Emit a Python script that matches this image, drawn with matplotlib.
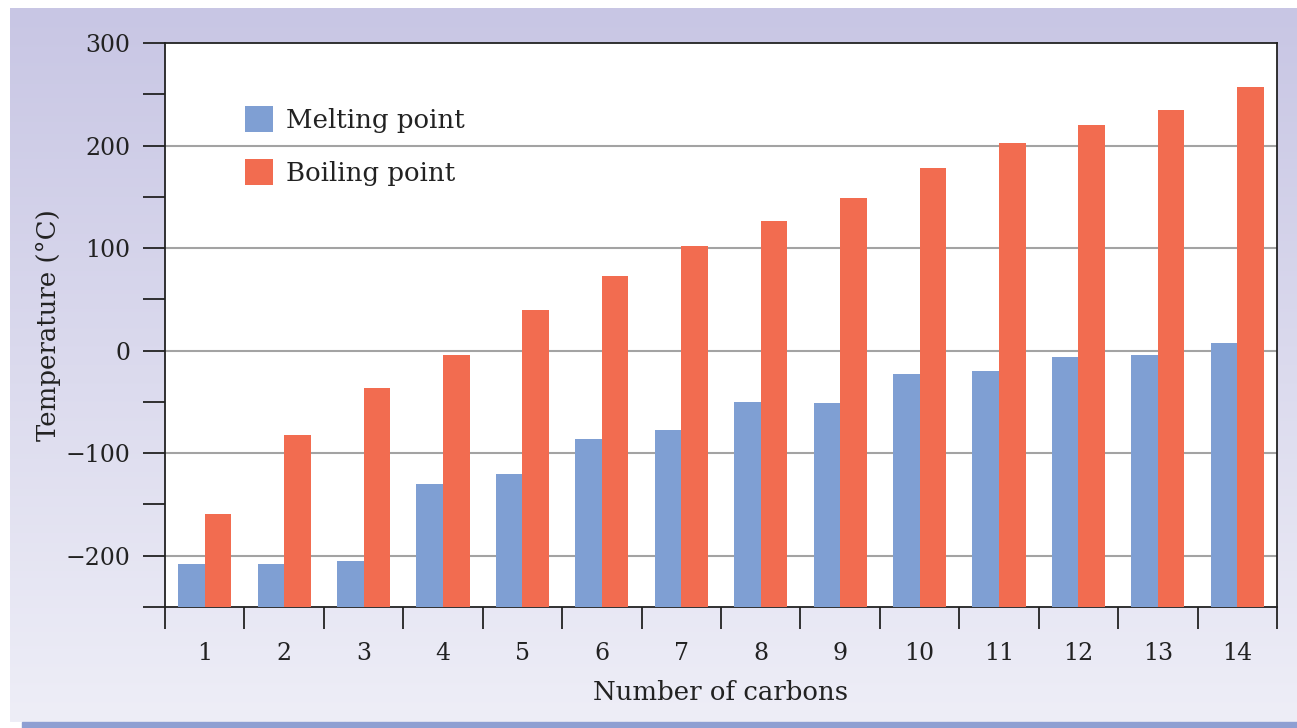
import numpy as np
import matplotlib
matplotlib.use("Agg")
import matplotlib.pyplot as plt
from matplotlib.patches import Rectangle
from matplotlib.ticker import FixedLocator

carbons = [1, 2, 3, 4, 5, 6, 7, 8, 9, 10, 11, 12, 13, 14]
melting = [-208, -208, -205, -130, -120, -86, -77, -50, -51, -23, -20, -6, -4, 7]
boiling = [-159, -82, -36, -4, 40, 73, 102, 126, 149, 178, 202, 220, 235, 257]
y_ticks = [-200, -100, 0, 100, 200, 300]
y_tick_labels = ["\u2212200", "\u2212100", "0", "100", "200", "300"]

blue = "#7f9fd3"
orange = "#f26c50"
font = ["DejaVu Serif"]
plt.rcParams["font.family"] = font
FS = 17
LFS = 18.7
TC = "#222222"

fig = plt.figure(figsize=(12.97, 7.28), dpi=100)

# background panel with vertical gradient
bg = fig.add_axes([0, 0, 1, 1], zorder=-10)
bg.axis("off")
top_c = np.array([200, 198, 228]) / 255
bot_c = np.array([238, 238, 247]) / 255
t = np.linspace(0, 1, 256)[:, None]
grad = (top_c[None, :] * (1 - t) + bot_c[None, :] * t)[:, None, :]
grad = np.repeat(grad, 2, axis=1)
bg.imshow(grad, extent=[10, 1297, 722, 8], aspect="auto", interpolation="bilinear")
bg.add_patch(Rectangle((22, 722), 1275, 8, color="#8e9fd2"))
bg.set_xlim(0, 1297)
bg.set_ylim(728, 0)

ax = fig.add_axes([165 / 1297, 1 - 607 / 728, (1277 - 165) / 1297, (607 - 43) / 728])
ax.set_facecolor("white")
x = np.array(carbons)
w = 0.335
ymin = -250
ax.bar(x - w / 2, np.array(melting) - ymin, width=w, bottom=ymin, color=blue,
       label="Melting point", zorder=3)
ax.bar(x + w / 2, np.array(boiling) - ymin, width=w, bottom=ymin, color=orange,
       label="Boiling point", zorder=3)
ax.set_ylim(ymin, 300)
ax.set_xlim(0.5, 14.5)

for yv in [-200, -100, 0, 100, 200]:
    ax.axhline(yv, color="#a3a3a3", lw=1.5, zorder=1)

ax.yaxis.set_major_locator(FixedLocator(y_ticks))
ax.set_yticklabels(y_tick_labels)
ax.yaxis.set_minor_locator(FixedLocator([-250, -150, -50, 50, 150, 250]))
ax.tick_params(axis="y", which="both", direction="out", length=16, width=1.3,
               color=TC, labelsize=FS, pad=9, labelcolor=TC)

ax.xaxis.set_major_locator(FixedLocator(carbons))
ax.set_xticklabels([str(c) for c in carbons])
ax.xaxis.set_minor_locator(FixedLocator(np.arange(0.5, 15, 1)))
ax.tick_params(axis="x", which="major", length=0, labelsize=FS, pad=25, labelcolor=TC)
ax.tick_params(axis="x", which="minor", direction="out", length=16, width=1.3, color=TC)

for s in ax.spines.values():
    s.set_color(TC)
    s.set_linewidth(1.3)

ax.set_ylabel("Temperature (\u00b0C)", fontsize=LFS, color=TC, labelpad=3)
ax.set_xlabel("Number of carbons", fontsize=LFS, color=TC, labelpad=11)

leg = ax.legend(loc="upper left", bbox_to_anchor=(0.072, 0.888), frameon=False,
                fontsize=LFS, handlelength=1.07, handleheight=1.15, labelspacing=1.0,
                handletextpad=0.5, borderaxespad=0, borderpad=0)
for txt in leg.get_texts():
    txt.set_color(TC)

fig.savefig("out.png", dpi=100)
